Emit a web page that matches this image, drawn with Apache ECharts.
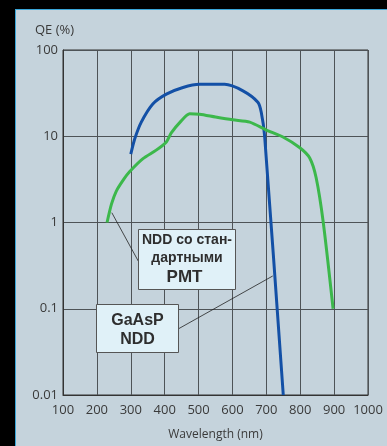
<!DOCTYPE html>
<html><head><meta charset="utf-8">
<script src="https://cdn.jsdelivr.net/npm/echarts@6/dist/echarts.min.js"></script>
<style>
html,body{margin:0;padding:0;background:#000;width:387px;height:446px;overflow:hidden;}
#panel{position:absolute;left:15px;top:9px;width:372px;height:437px;background:#c5d3dc;border-left:1px solid #3aa6d8;border-top:1px solid #3aa6d8;box-sizing:border-box;}
#chart{position:absolute;left:0;top:0;width:387px;height:446px;}
</style></head>
<body>
<div id="panel"></div>
<div id="chart"></div>
<script>
// Data
const xTicks = [100, 200, 300, 400, 500, 600, 700, 800, 900, 1000];
const yTicks = [0.01, 0.1, 1, 10, 100];
const gaaspWl = [300, 312, 331, 365, 405, 454, 503, 577, 631, 675, 685, 695, 750];
const gaaspQE = [6.2, 9.4, 14.6, 23.7, 30.8, 36.8, 40, 40, 33.6, 24.8, 19, 10, 0.01];
const stdWl = [230, 243, 257, 280, 297, 336, 375, 405, 420, 445, 474, 503, 550, 601, 651, 700, 749, 798, 828, 847, 868, 897];
const stdQE = [1.0, 1.63, 2.3, 3.2, 3.9, 5.5, 6.9, 8.6, 11.0, 14.5, 18.2, 18.0, 16.7, 15.5, 14.6, 11.8, 9.8, 7.4, 5.6, 3.3, 1.0, 0.1];
const stdLabel = ['NDD со стан-', 'дартными', 'PMT'];
const gaaspLabel = ['GaAsP', 'NDD'];
const stdAnchor = [244, 1.3];
const gaaspAnchor = [719, 0.24];

const chart = echarts.init(document.getElementById('chart'), null, {renderer: 'canvas'});
const font = '"Open Sans", "Noto Sans", sans-serif';
const gridColor = '#4e5357';
chart.setOption({
  backgroundColor: 'transparent',
  animation: false,
  title: {text: 'QE (%)', left: 30, top: 19, textStyle: {fontFamily: font, fontSize: 13, fontWeight: 'normal', color: '#3a3a3a'}},
  grid: {left: 63, top: 50, width: 305, height: 350, show: true, borderColor: '#333', borderWidth: 1, backgroundColor: 'transparent'},
  xAxis: {
    type: 'value', min: 100, max: 1000, interval: 100,
    name: 'Wavelength (nm)', nameLocation: 'middle', nameGap: 34,
    nameTextStyle: {fontFamily: font, fontSize: 12, color: '#3a3a3a'},
    axisLine: {show: true, lineStyle: {color: '#333', width: 1}},
    axisTick: {show: false},
    axisLabel: {fontFamily: font, fontSize: 13, color: '#3a3a3a', margin: 9,
      formatter: v => xTicks.includes(v) ? String(v) : ''},
    splitLine: {show: true, lineStyle: {color: gridColor, width: 1}}
  },
  yAxis: {
    type: 'log', logBase: 10, min: 0.01, max: 100,
    axisLine: {show: true, lineStyle: {color: '#333', width: 1}},
    axisTick: {show: false},
    axisLabel: {fontFamily: font, fontSize: 13, color: '#3a3a3a', margin: 5,
      formatter: v => { const t = yTicks.find(k => Math.abs(Math.log10(k) - Math.log10(v)) < 1e-6); return t !== undefined ? String(t) : ''; }},
    splitLine: {show: true, lineStyle: {color: gridColor, width: 1}}
  },
  series: [
    {type: 'line', name: 'GaAsP NDD', data: gaaspWl.map((w, i) => [w, gaaspQE[i]]), symbol: 'none', smooth: 0.25,
      lineStyle: {color: '#1350a6', width: 3}, z: 3},
    {type: 'line', name: 'NDD std PMT', data: stdWl.map((w, i) => [w, stdQE[i]]), symbol: 'none', smooth: 0.25,
      lineStyle: {color: '#3cb84b', width: 3}, z: 3}
  ]
});

const a1 = chart.convertToPixel({gridIndex: 0}, stdAnchor);
const a2 = chart.convertToPixel({gridIndex: 0}, gaaspAnchor);
const boldNarrow = '"Liberation Sans Narrow", "Arial Narrow", "Liberation Sans", Arial, sans-serif';
const bold = '"Liberation Sans", Arial, sans-serif';
const txt = '#2e2e2e';
chart.setOption({
  graphic: [
    {type: 'line', z: 10, shape: {x1: a1[0], y1: a1[1], x2: 138.5, y2: 261.5}, style: {stroke: '#222', lineWidth: 0.8}},
    {type: 'line', z: 10, shape: {x1: 179, y1: 328.5, x2: a2[0], y2: a2[1]}, style: {stroke: '#222', lineWidth: 0.8}},
    {type: 'rect', z: 11, shape: {x: 138.5, y: 229.5, width: 97, height: 60}, style: {fill: '#e0f1f8', stroke: '#555', lineWidth: 1}},
    {type: 'text', z: 12, x: 187, y: 240, style: {text: stdLabel[0], font: 'bold 14px ' + boldNarrow, fill: txt, align: 'center', verticalAlign: 'middle'}},
    {type: 'text', z: 12, x: 187, y: 258, style: {text: stdLabel[1], font: 'bold 14px ' + boldNarrow, fill: txt, align: 'center', verticalAlign: 'middle'}},
    {type: 'text', z: 12, x: 184.5, y: 277, style: {text: stdLabel[2], font: 'bold 17px ' + bold, fill: txt, align: 'center', verticalAlign: 'middle'}},
    {type: 'rect', z: 11, shape: {x: 96.5, y: 304.5, width: 82, height: 48}, style: {fill: '#e0f1f8', stroke: '#555', lineWidth: 1}},
    {type: 'text', z: 12, x: 137.5, y: 321, style: {text: gaaspLabel[0], font: 'bold 16px ' + bold, fill: txt, align: 'center', verticalAlign: 'middle'}},
    {type: 'text', z: 12, x: 137.5, y: 339.5, style: {text: gaaspLabel[1], font: 'bold 16px ' + bold, fill: txt, align: 'center', verticalAlign: 'middle'}}
  ]
});
</script>
</body></html>
